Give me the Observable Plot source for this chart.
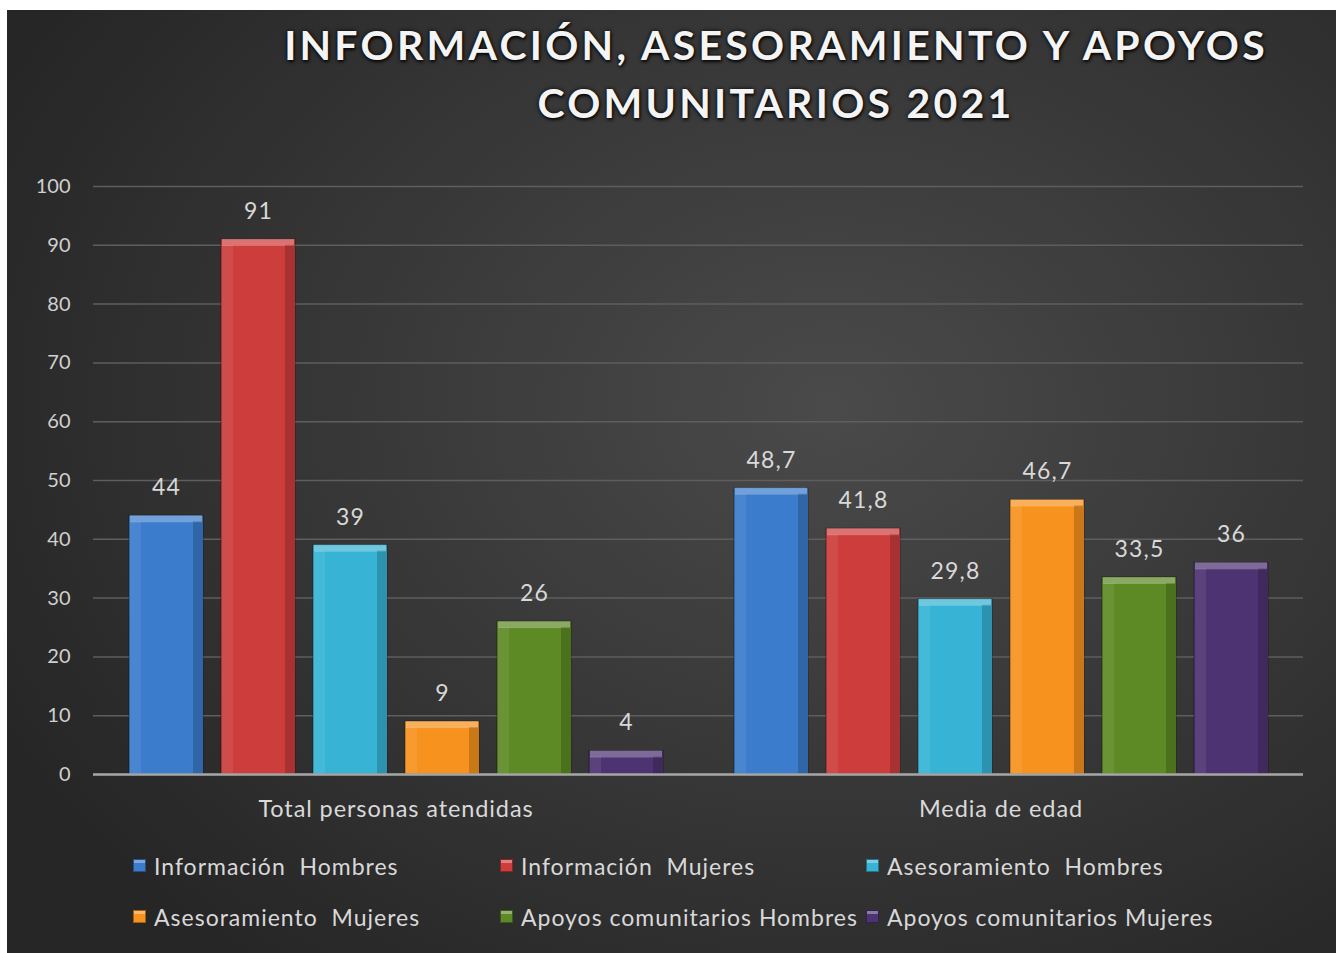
<!DOCTYPE html>
<html>
<head>
<meta charset="utf-8">
<script src="https://cdn.jsdelivr.net/npm/d3@7"></script>
<script src="https://cdn.jsdelivr.net/npm/@observablehq/plot@0.6"></script>
<style>
  html, body { margin: 0; padding: 0; background: #ffffff; }
  body { width: 1336px; height: 953px; position: relative; overflow: hidden; font-family: Lato, "Open Sans", sans-serif; }
  #panel {
    position: absolute; left: 7px; top: 10px; width: 1329px; height: 943px;
    background: radial-gradient(ellipse 70% 75% at 62% 42%, #4a4a4a 0%, #3a3a3a 45%, #262626 100%);
  }
  #title {
    position: absolute; left: 209px; top: 6px; width: 1120px; text-align: center;
    color: #f4f4f4; font-weight: 700; font-size: 41px; line-height: 58px; letter-spacing: 3.25px;
    text-shadow: 0 0 4px rgba(0,0,0,0.9), 1px 2px 3px rgba(0,0,0,0.7);
  }
  #chart { position: absolute; left: 0px; top: 130px; }
  #chart g[aria-label="fx-axis tick label"] text { letter-spacing: 0.9px; }
  #chart g[aria-label="text"] text { letter-spacing: 1.2px; }
  #legend {
    position: absolute; left: 126px; top: 830px;
    display: grid; grid-template-columns: 367px 366px auto; grid-auto-rows: 51px;
    color: #d9d9d9; font-size: 23px; letter-spacing: 1px;
  }
  .item { display: flex; align-items: center; white-space: pre; }
  .sw { width: 13px; height: 13px; margin-right: 8px; box-sizing: border-box; border: 1px solid rgba(0,0,0,0.35);
        box-shadow: inset 0 3px 0 rgba(255,255,255,0.35); }
</style>
</head>
<body>
<div id="panel">
  <div id="title">INFORMACIÓN, ASESORAMIENTO Y APOYOS<br>COMUNITARIOS 2021</div>
  <div id="chart"></div>
  <div id="legend"></div>
</div>
<script>
const groups = ["Total personas atendidas", "Media de edad"];
const series = ["Información  Hombres", "Información  Mujeres", "Asesoramiento  Hombres",
                "Asesoramiento  Mujeres", "Apoyos comunitarios Hombres", "Apoyos comunitarios Mujeres"];
const colors = ["#3b7ccc", "#cc3d3c", "#36b3d5", "#f7921e", "#5d8a24", "#4d3372"];
const totalValues = [44, 91, 39, 9, 26, 4];
const edadValues = [48.7, 41.8, 29.8, 46.7, 33.5, 36];
const yTicks = [0, 10, 20, 30, 40, 50, 60, 70, 80, 90, 100];

const data = [];
series.forEach((s, i) => data.push({group: groups[0], series: s, value: totalValues[i]}));
series.forEach((s, i) => data.push({group: groups[1], series: s, value: edadValues[i]}));
const fmt = v => String(v).replace(".", ",");

const chart = Plot.plot({
  width: 1329,
  height: 700,
  marginTop: 46,
  marginBottom: 66,
  marginLeft: 86,
  marginRight: 33,
  style: { background: "transparent", fontFamily: "Lato, 'Open Sans', sans-serif", overflow: "visible" },
  fx: { domain: groups, padding: 0, label: null },
  x: { domain: series, paddingInner: 0.2, paddingOuter: 0.388, axis: null },
  y: { domain: [0, 100], label: null },
  color: { domain: series, range: colors },
  marks: [
    Plot.gridY(yTicks, { stroke: "#5e5e5e", strokeOpacity: 1, strokeWidth: 1.5 }),
    Plot.axisY(yTicks, { tickSize: 0, tickPadding: 23, fontSize: 20, fill: "#d0d0d0", label: null }),
    Plot.axisFx({ anchor: "bottom", tickSize: 0, tickPadding: 26, fontSize: 23.5, fill: "#d9d9d9", label: null }),
    Plot.barY(data, { fx: "group", x: "series", y: "value", fill: "series", stroke: "rgba(0,0,0,0.35)", strokeWidth: 1 }),
    Plot.barY(data, { fx: "group", x: "series", y1: "value", y2: "value", insetBottom: -7, insetLeft: 1, insetRight: 1, fill: "white", fillOpacity: 0.28 }),
    Plot.barY(data, { fx: "group", x: "series", y1: 0, y2: "value", insetLeft: 1, insetRight: 62, insetTop: 6, fill: "white", fillOpacity: 0.08 }),
    Plot.barY(data, { fx: "group", x: "series", y1: 0, y2: "value", insetLeft: 64, insetRight: 1, insetTop: 6, fill: "black", fillOpacity: 0.18 }),
    Plot.ruleY([0], { stroke: "#a6a6a6", strokeWidth: 2.5 }),
    Plot.text(data, { fx: "group", x: "series", y: "value", text: d => fmt(d.value), dy: -28, lineAnchor: "middle", fontSize: 23, fill: "#d9d9d9" })
  ]
});
document.getElementById("chart").appendChild(chart);

const legend = document.getElementById("legend");
series.forEach((s, i) => {
  const it = document.createElement("div");
  it.className = "item";
  const sw = document.createElement("span");
  sw.className = "sw";
  sw.style.background = colors[i];
  it.appendChild(sw);
  it.appendChild(document.createTextNode(s));
  legend.appendChild(it);
});
</script>
</body>
</html>
